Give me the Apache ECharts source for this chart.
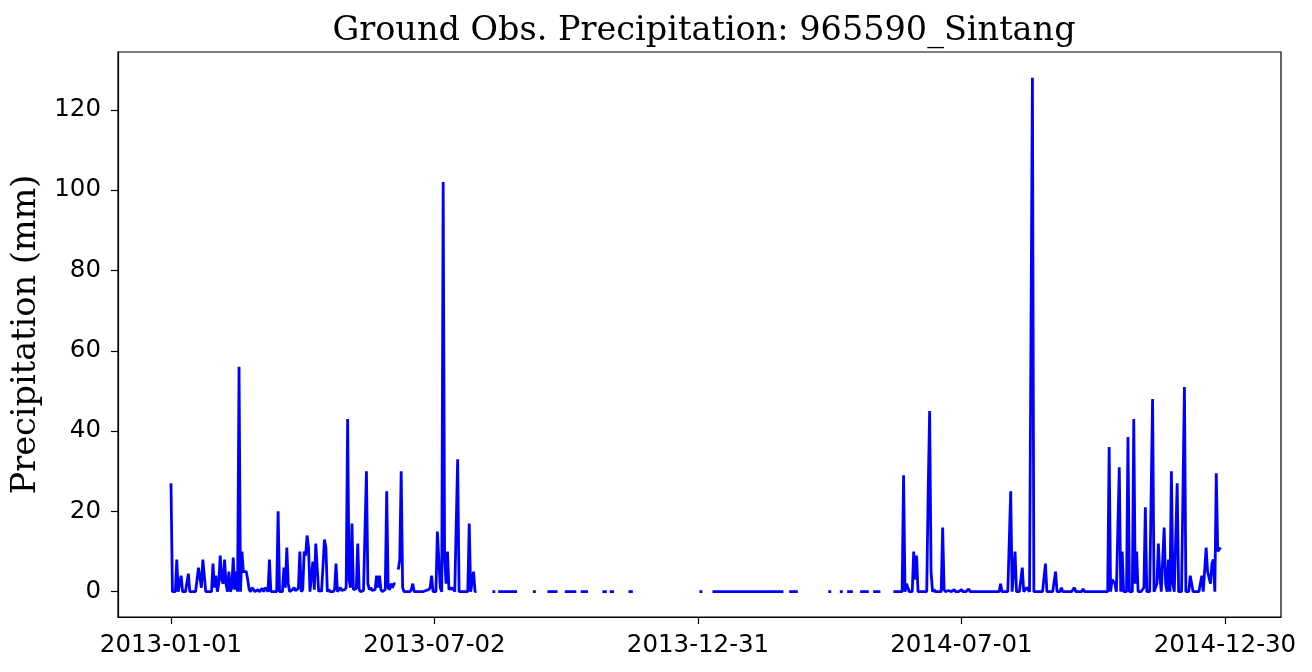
<!DOCTYPE html>
<html>
<head>
<meta charset="utf-8">
<script src="https://cdn.jsdelivr.net/npm/echarts@6/dist/echarts.min.js"></script>
<style>
html,body{margin:0;padding:0;background:#fff;}
#chart{width:1312px;height:672px;}
</style>
</head>
<body>
<div id="chart"></div>
<script>
// Daily precipitation (mm), day index counted from 2013-01-01.
// Each run = consecutive observed days; gaps between runs are missing data.
const runStarts = [0, 157, 222, 226, 250, 260, 272, 283, 298, 303, 316, 365, 374, 427, 454, 462, 467, 476, 485, 499];

const run2013a = [ // days 0-155
  27,0,0,0,8,0,0,4,0,0,
  0,0,4.5,0,0,0,0,0,0,6,
  6,1,8,8,0,0,0,0,0,7,
  1,4,0,2,9,3,2,8,2,0,
  5,0,1,8.5,0.5,5,0,56,0,10,
  5,5,5,3,0.5,0,1,0.5,0,0,
  0.5,0,0.3,0.8,0,1,0.5,0,8,0,
  0,0,0,0,20,0,0,0,6,1,
  11,2,0,0,0.5,1,0.3,0,0.8,10,
  0,0.5,10,9,14,11,0,0,7.5,0.5,
  12,6,0,0.5,0,0.3,13,11,0,0.5,
  0,0,0,0.5,7,0,0.5,1,0.3,0,
  0.5,1,43,3,1,17,0.5,0.3,0.8,12,
  0.5,0,0,0.3,0.5,30,2,0.5,1,0.3,
  0,0.5,4,1,4,0.5,0,0,0.5,25,
  1,0.5,2,1,2,2
];
const run2013b = [ // days 157-211
  5.5,8,30,
  1,0,0,0,0,0,0.5,2,0,0,
  0,0,0,0,0,0,0.3,0,0.5,1,
  4,0,0,0,15,15,1,0,102,8,
  2,10,0.5,1,0.5,1,0,0,33,0,
  0,0,0,0,0,0,17,0,0,5,
  0,0
];
const run222 = [0,0,0];
const run226 = [0,0,0,0,0,0,0,0,0,0,0,0,0,0];
const run250 = [0,0,0];
const run260 = [0,0,0,0,0,0,0,0];
const run272 = [0,0,0,0,0,0,0,0,0];
const run283 = [0,0,0,0,0,0];
const run298 = [0,0,0,0];
const run303 = [0,0,0,0];
const run316 = [0,0,0,0];
const run365 = [0,0,0];
const run374 = [ // days 374-423
  0,0,0,0,0,0,0,0,0,0,
  0,0,0,0,0,0,0,0,0,0,
  0,0,0,0,0,0,0,0,0,0,
  0,0,0,0,0,0,0,0,0,0,
  0,0,0,0,0,0,0,0,0,0
];
const run427 = [0,0,0,0,0,0,0];
const run454 = [0,0,0];
const run462 = [0,0,0];
const run467 = [0,0,0,0,0];
const run476 = [0,0,0,0,0,0,0];
const run485 = [0,0,0,0,0,0];
const run2014 = [ // days 499-725
  0,0,0,0,0,0,0,29,0,2,2,              // 499-509
  0,0,0,10,3,9,0,0,0,0,                // 510-519
  0,0,0,25,45,5,0,0.5,0,0.3,           // 520-529
  0,0,0,16,0.5,0,0,0.3,0,0,            // 530-539
  0,0.5,0,0,0,0,0.5,0,0,0,             // 540-549
  0,0.7,0,0,0,0,0,0,0,0,               // 550-559
  0,0,0,0,0,0,0,0,0,0,                 // 560-569
  0,0,0,2,0,0,0,0,0,0,                 // 570-579
  25,0,0,10,0,0,0,0,6,0,               // 580-589
  0,1,1,0,0,128,0,0,0,0,               // 590-599
  0,0,0,0,7,0,0,0,0,0,                 // 600-609
  0,5,0,0,0,1,0,0,0,0,                 // 610-619
  0,0,0,0,1,0,0,0,0,0,                 // 620-629
  0.7,0,0,0,0,0,0,0,0,0,               // 630-639
  0,0,0,0,0,0,0,0,36,0,                // 640-649
  3,3,2,0,0,31,0,10,0,0,               // 650-659
  0,38.5,0,0,0,43,2,10,0,0,            // 660-669
  0,0,1,21,0,0,0,0,48,0,               // 670-679
  0,2,12,4,0,0,16,2,0,8,               // 680-689
  0,30,2,0,0,27,0,0,0,0,               // 690-699
  51,0,0,0,4,4,0,0,0,0,                // 700-709
  0,0,4,0,0,11,5,5,2,7,                // 710-719
  8,0,29.5,10,10.5,11                  // 720-725
];
const runs = [run2013a, run2013b, run222, run226, run250, run260, run272, run283, run298, run303, run316,
              run365, run374, run427, run454, run462, run467, run476, run485, run2014];

const xTickDays = [0, 182, 364, 546, 728];
const xTickLabels = ['2013-01-01', '2013-07-02', '2013-12-31', '2014-07-01', '2014-12-30'];
const yTicks = [0, 20, 40, 60, 80, 100, 120];

// build [day, value] pairs; break the line between runs
const seriesData = [];
runs.forEach((vals, r) => {
  const s = runStarts[r];
  vals.forEach((v, i) => seriesData.push([s + i, v === null ? '-' : v]));
  seriesData.push([s + vals.length - 0.5, '-']);
});

const chart = echarts.init(document.getElementById('chart'), null, {renderer: 'canvas'});
const tickFont = {fontFamily: 'DejaVu Sans', fontSize: 24.5, color: '#000'};
chart.setOption({
  animation: false,
  backgroundColor: '#fff',
  title: {
    text: 'Ground Obs. Precipitation: 965590_Sintang',
    left: 699, top: 9, textAlign: 'center',
    textStyle: {fontFamily: 'DejaVu Serif', fontSize: 33.5, fontWeight: 'normal', color: '#000'}
  },
  grid: {left: 118, right: 31, top: 52, bottom: 55, show: true, borderColor: '#000', borderWidth: 1.2, backgroundColor: 'transparent'},
  xAxis: {
    type: 'value', min: -36.6, max: 766.7,
    splitLine: {show: false},
    axisLine: {show: true, onZero: false, lineStyle: {color: '#000', width: 1.2}},
    axisTick: {show: true, customValues: xTickDays, length: 7, lineStyle: {color: '#000', width: 1.2}},
    axisLabel: Object.assign({
      customValues: xTickDays, margin: 16,
      formatter: v => xTickLabels[xTickDays.indexOf(Math.round(v))] || ''
    }, tickFont)
  },
  yAxis: {
    type: 'value', min: -6.3, max: 134.4,
    name: 'Precipitation (mm)', nameLocation: 'middle', nameGap: 67,
    nameTextStyle: {fontFamily: 'DejaVu Serif', fontSize: 33.5, color: '#000'},
    splitLine: {show: false},
    axisLine: {show: true, onZero: false, lineStyle: {color: '#000', width: 1.2}},
    axisTick: {show: true, customValues: yTicks, length: 7, lineStyle: {color: '#000', width: 1.2}},
    axisLabel: Object.assign({customValues: yTicks, margin: 17}, tickFont)
  },
  series: [{
    type: 'line',
    data: seriesData,
    showSymbol: false,
    connectNulls: false,
    lineStyle: {color: '#0000ff', width: 2.8},
    itemStyle: {color: '#0000ff'}
  }]
});
</script>
</body>
</html>
